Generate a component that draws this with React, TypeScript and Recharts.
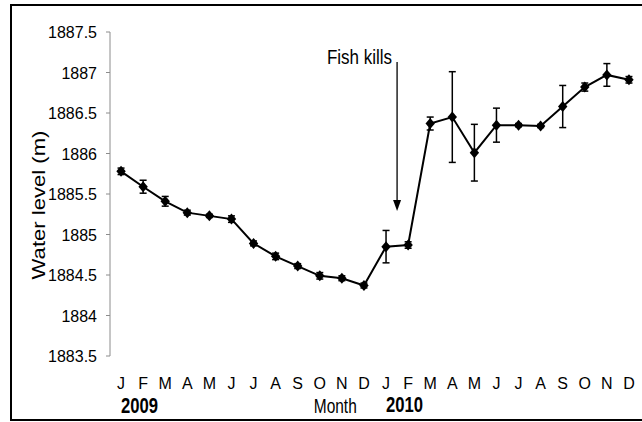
import React from 'react';
import { LineChart, Line, XAxis, YAxis, ErrorBar, ReferenceLine, ReferenceDot } from 'recharts';

// Monthly water level, Jan 2009 – Dec 2010
const months = ['J', 'F', 'M', 'A', 'M', 'J', 'J', 'A', 'S', 'O', 'N', 'D',
  'J', 'F', 'M', 'A', 'M', 'J', 'J', 'A', 'S', 'O', 'N', 'D'];
const waterLevel = [1885.78, 1885.59, 1885.41, 1885.27, 1885.23, 1885.19, 1884.89, 1884.73,
  1884.61, 1884.49, 1884.46, 1884.37, 1884.85, 1884.87, 1886.37, 1886.45, 1886.01, 1886.35,
  1886.35, 1886.34, 1886.58, 1886.82, 1886.97, 1886.91];
const levelError = [0.04, 0.08, 0.06, 0.03, 0.02, 0.04, 0.03, 0.04, 0.03, 0.04, 0.03, 0.03,
  0.2, 0.04, 0.08, 0.56, 0.35, 0.21, 0.02, 0.02, 0.26, 0.05, 0.14, 0.04];
const yTicks = [1883.5, 1884, 1884.5, 1885, 1885.5, 1886, 1886.5, 1887, 1887.5];
const monthBounds = [0, 1, 2, 3, 4, 5, 6, 7, 8, 9, 10, 11, 12, 13, 14, 15, 16, 17, 18, 19, 20, 21, 22, 23, 24];

// fish kill event: between Jan and Feb 2010
const killX = 13;
const arrowTop = 1887.13;
const arrowTip = 1885.29;

const chartData = months.map((m, i) => ({ x: i + 0.5, month: m, level: waterLevel[i], err: levelError[i] }));

const FONT = '"Liberation Sans", Arial, sans-serif';
const AXIS_GREY = '#8c8c8c';

// tall, narrow text like the original figure labels
const StretchText = ({ x, y, text, anchor = 'middle', sx = 1, sy = 1.2, size = 17, bold = false, rotate = 0, dy = 0 }: any) => (
  <text
    transform={`translate(${x},${y}) rotate(${rotate}) scale(${sx},${sy})`}
    textAnchor={anchor}
    dy={dy}
    fontSize={size}
    fontWeight={bold ? 'bold' : 'normal'}
    fontFamily={FONT}
    fill="#000"
  >
    {text}
  </text>
);

const LevelTick = (props: any) => {
  const { x, y, payload } = props;
  return <StretchText x={x} y={y} text={String(payload.value)} anchor="end" size={16} sx={1} sy={1.08} dy="0.36em" />;
};

const Diamond = (props: any) => {
  const { cx, cy } = props;
  if (cx == null || cy == null) return null;
  return (
    <polygon
      key={props.index}
      points={`${cx},${cy - 5.5} ${cx + 4.7},${cy} ${cx},${cy + 5.5} ${cx - 4.7},${cy}`}
      fill="#000"
    />
  );
};

const ArrowHead = (props: any) => {
  const { cx, cy } = props;
  return <polygon points={`${cx},${cy} ${cx - 4},${cy - 11} ${cx + 4},${cy - 11}`} fill="#000" />;
};

export default function App() {
  return (
    <div style={{ position: 'absolute', left: 0, top: 0, width: 642, height: 422, overflow: 'hidden', background: '#fff' }}>
      <div style={{ position: 'absolute', left: 10, top: 4, width: 700, height: 413, border: '2px solid #000' }} />
      <div style={{ position: 'absolute', left: 0, top: 0 }}>
        <LineChart width={642} height={422} data={chartData} margin={{ top: 32, right: 2, bottom: 26, left: 50 }}>
          <XAxis
            xAxisId="tick"
            type="number"
            dataKey="x"
            domain={[0, 24]}
            ticks={monthBounds}
            tick={false}
            height={0}
            tickSize={5}
            stroke={AXIS_GREY}
          />
          <XAxis
            xAxisId="lab"
            type="number"
            dataKey="x"
            domain={[0, 24]}
            ticks={chartData.map((d) => d.x)}
            tickFormatter={(v: number) => months[Math.floor(v)]}
            axisLine={false}
            tickLine={false}
            tickSize={0}
            tickMargin={22}
            height={40}
            interval={0}
            tick={{ fontSize: 16, fill: '#000', fontFamily: FONT }}
          />
          <YAxis
            type="number"
            domain={[1883.5, 1887.5]}
            ticks={yTicks}
            interval={0}
            width={60}
            tickSize={4}
            tickMargin={9}
            stroke={AXIS_GREY}
            tick={<LevelTick />}
            label={{
              content: (p: any) => {
                const vb = p.viewBox;
                return (
                  <StretchText
                    x={vb.x - 11.5}
                    y={vb.y + vb.height / 2 + 11}
                    text="Water level (m)"
                    rotate={-90}
                    sx={1.3}
                    sy={1.07}
                    dy="0.36em"
                  />
                );
              },
            }}
          />
          <ReferenceLine
            xAxisId="tick"
            segment={[{ x: killX, y: arrowTop }, { x: killX, y: arrowTip + 0.12 }]}
            stroke="#000"
            strokeWidth={1.3}
            ifOverflow="visible"
          />
          <ReferenceDot xAxisId="tick" x={killX} y={arrowTip} ifOverflow="visible" shape={ArrowHead} />
          <ReferenceDot
            xAxisId="tick"
            x={killX}
            y={arrowTop}
            ifOverflow="visible"
            shape={(p: any) => <StretchText x={p.cx - 5} y={p.cy + 2} text="Fish kills" anchor="end" sx={1} sy={1.23} />}
          />
          <ReferenceDot
            xAxisId="tick"
            x={0.5}
            y={1883.5}
            ifOverflow="visible"
            shape={(p: any) => <StretchText x={p.cx} y={p.cy + 57} text="2009" anchor="start" bold sx={0.98} sy={1.25} />}
          />
          <ReferenceDot
            xAxisId="tick"
            x={12.5}
            y={1883.5}
            ifOverflow="visible"
            shape={(p: any) => <StretchText x={p.cx} y={p.cy + 56} text="2010" anchor="start" bold sx={0.98} sy={1.25} />}
          />
          <ReferenceDot
            xAxisId="tick"
            x={10.2}
            y={1883.5}
            ifOverflow="visible"
            shape={(p: any) => <StretchText x={p.cx} y={p.cy + 57} text="Month" sx={0.91} sy={1.15} />}
          />
          <Line
            xAxisId="tick"
            type="linear"
            dataKey="level"
            stroke="#000"
            strokeWidth={2}
            dot={(p: any) => <Diamond key={p.index} {...p} />}
            activeDot={false}
            isAnimationActive={false}
          >
            <ErrorBar dataKey="err" direction="y" width={3.5} stroke="#000" strokeWidth={1.5} isAnimationActive={false} />
          </Line>
        </LineChart>
      </div>
    </div>
  );
}
